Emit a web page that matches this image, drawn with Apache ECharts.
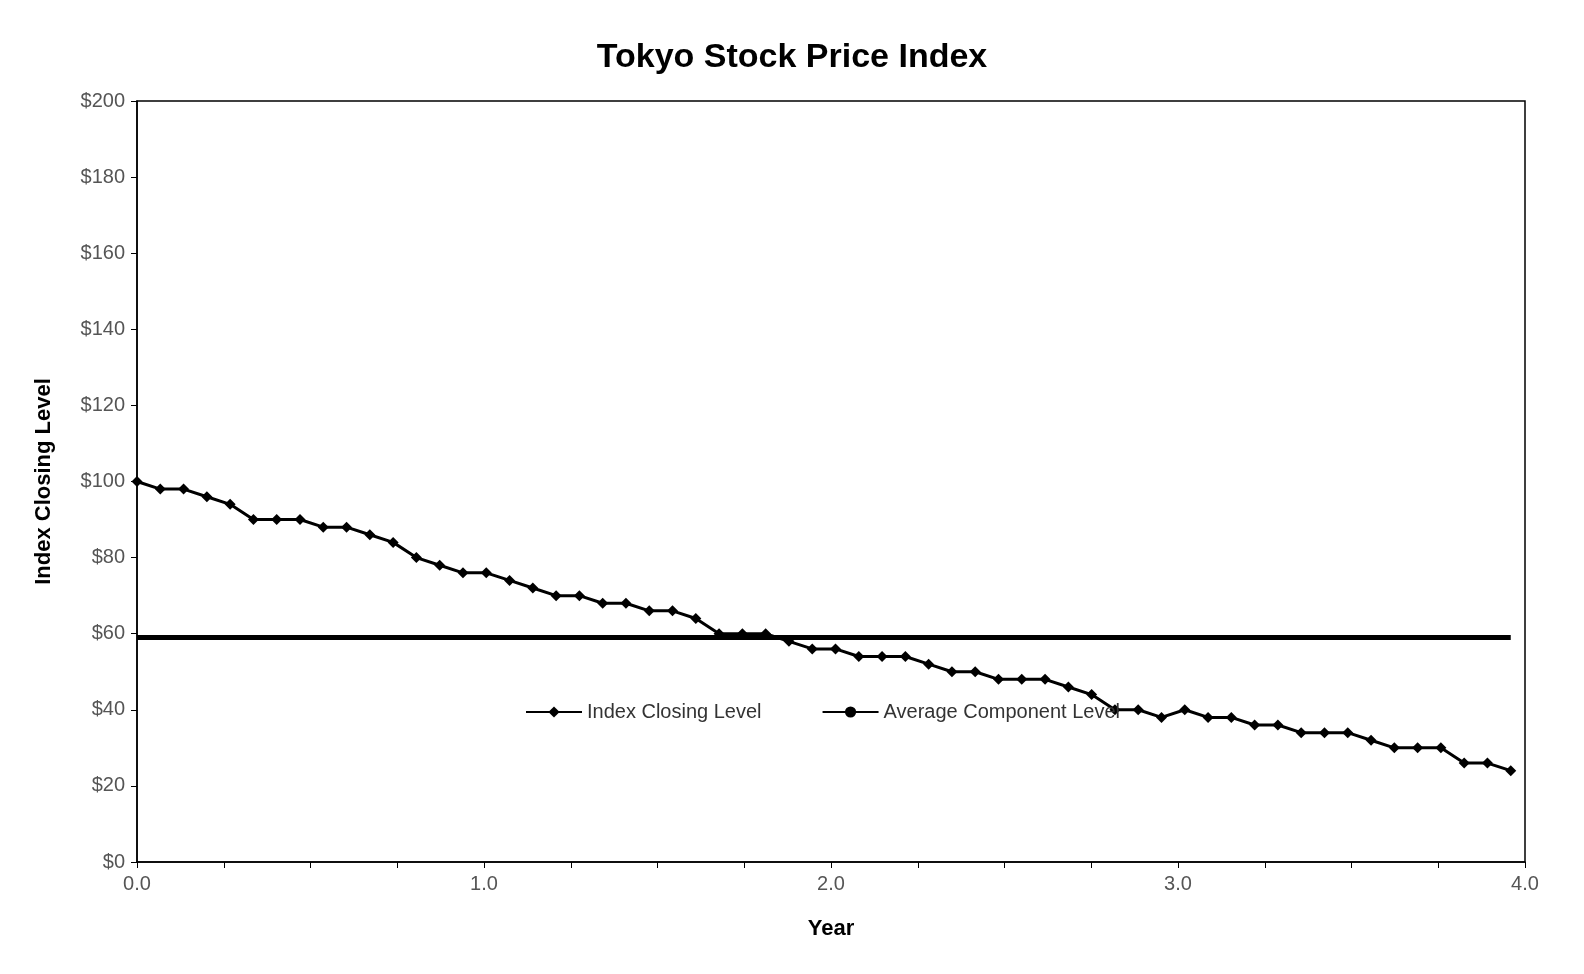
<!DOCTYPE html><html><head><meta charset="utf-8"><script src="https://cdn.jsdelivr.net/npm/echarts@6/dist/echarts.min.js"></script>
<style>html,body{margin:0;background:#fff}#c{width:1584px;height:974px}</style></head><body><div id="c"></div><script>
const indexValues=[100,98,98,96,94,90,90,90,88,88,86,84,80,78,76,76,74,72,70,70,68,68,66,66,64,60,60,60,58,56,56,54,54,54,52,50,50,48,48,48,46,44,40,40,38,40,38,38,36,36,34,34,34,32,30,30,30,26,26,24];
const xStep=0.0671;
const averageLevel=59;
const xTicks=[0,1,2,3,4];
const idx=indexValues.map((v,i)=>[i*xStep,v]);
const lastX=(indexValues.length-1)*xStep;
const c=echarts.init(document.getElementById('c'));
const F='Liberation Sans, Arial, sans-serif';
c.setOption({
 title:{text:'Tokyo Stock Price Index',left:'center',top:36,textStyle:{fontFamily:F,fontSize:34,fontWeight:'bold',color:'#000'}},
 grid:{left:137,right:59,top:101,bottom:112,show:true,borderColor:'#000',borderWidth:1.5},
 legend:{top:697,left:520,itemGap:60,itemWidth:56,textStyle:{fontFamily:F,fontSize:20,color:'#333'},data:['Index Closing Level','Average Component Level']},
 xAxis:{type:'value',min:0,max:4,interval:0.25,name:'Year',nameLocation:'middle',nameGap:56,nameTextStyle:{fontFamily:F,fontSize:22,fontWeight:'bold',color:'#000'},
  axisLine:{lineStyle:{color:'#000',width:1.5}},axisTick:{inside:false,length:6,lineStyle:{color:'#000'}},splitLine:{show:false},
  axisLabel:{fontFamily:F,fontSize:20,color:'#555',margin:12,formatter:v=>xTicks.includes(v)?v.toFixed(1):''}},
 yAxis:{type:'value',min:0,max:200,interval:20,name:'Index Closing Level',nameLocation:'middle',nameGap:82,nameTextStyle:{fontFamily:F,fontSize:22,fontWeight:'bold',color:'#000'},
  axisLine:{show:true,lineStyle:{color:'#000',width:1.5}},axisTick:{show:true,length:6,lineStyle:{color:'#000'}},splitLine:{show:false},
  axisLabel:{fontFamily:F,fontSize:20,color:'#555',margin:12,formatter:v=>'$'+v}},
 series:[
  {name:'Index Closing Level',type:'line',data:idx,symbol:'diamond',symbolSize:11,itemStyle:{color:'#000'},lineStyle:{color:'#000',width:3},z:3},
  {name:'Average Component Level',type:'line',data:[[0,averageLevel],[lastX,averageLevel]],symbol:'none',itemStyle:{color:'#000'},lineStyle:{color:'#000',width:5},z:2}
 ]});
</script></body></html>
